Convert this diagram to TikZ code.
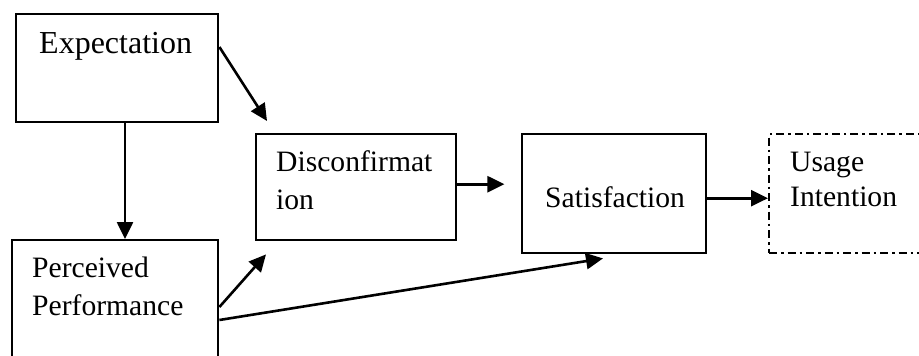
\documentclass[tikz,border=0pt]{standalone}
\usepackage{fontspec}
\setmainfont{Liberation Serif}
\usetikzlibrary{arrows.meta,calc}
\begin{document}
\begin{tikzpicture}[x=1pt,y=-1pt,
  box/.style={draw,line width=2.4pt,rectangle,inner sep=0pt,anchor=north west},
  dashdot/.style={draw,line width=2pt,rectangle,inner sep=0pt,anchor=north west,
    dash pattern=on 8pt off 4pt on 2.5pt off 4pt},
  lbl/.style={anchor=base west,inner sep=0pt,font=\fontsize{29.6}{38}\selectfont},
  arr/.style={line width=2.6pt,-{Triangle[length=17pt,width=16pt]}}]
\useasboundingbox (0,0) rectangle (919,356);
\clip (0,0) rectangle (919,356);
% boxes
\node[box,minimum width=202pt,minimum height=108pt] (exp) at (15,13) {};
\node[box,minimum width=206pt,minimum height=140pt] (perc) at (11,239) {};
\node[box,minimum width=200pt,minimum height=106pt] (dis) at (255,133) {};
\node[box,minimum width=184pt,minimum height=119pt] (sat) at (521,133) {};
\node[dashdot,minimum width=170pt,minimum height=119pt] (use) at (768,133) {};
% labels
\node[lbl,font=\fontsize{32}{38}\selectfont] (texp) at (39,53) {Expectation};
\node[lbl] (tperc1) at (32,277) {Perceived};
\node[lbl] (tperc2) at (32,315) {Performance};
\node[lbl] (tdis1) at (276,171) {Disconfirmat};
\node[lbl] (tdis2) at (276,209) {ion};
\node[lbl] (tsat) at (545,207) {Satisfaction};
\node[lbl] (tuse1) at (790,171) {Usage};
\node[lbl] (tuse2) at (790,206) {Intention};
% connectors
\draw[arr] ($(exp.north east)+(0,34)$) -- ($(dis.north west)+(12,-12)$);
\draw[arr] ($(exp.south west)+(110,0)$) coordinate (e1) -- (e1 |- perc.north);
\draw[arr] ($(perc.north east)+(0,68)$) -- ($(dis.south west)+(11,13)$);
\draw[arr] ($(perc.north east)+(0,81)$) -- ($(sat.south west)+(82,4)$);
\draw[arr] ($(dis.east)+(0,-3)$) coordinate (d1) -- ($(d1)+(47,0)$);
\draw[arr] ($(sat.east)+(0,4.5)$) coordinate (s1) -- (s1 -| use.west);
\end{tikzpicture}
\end{document}
